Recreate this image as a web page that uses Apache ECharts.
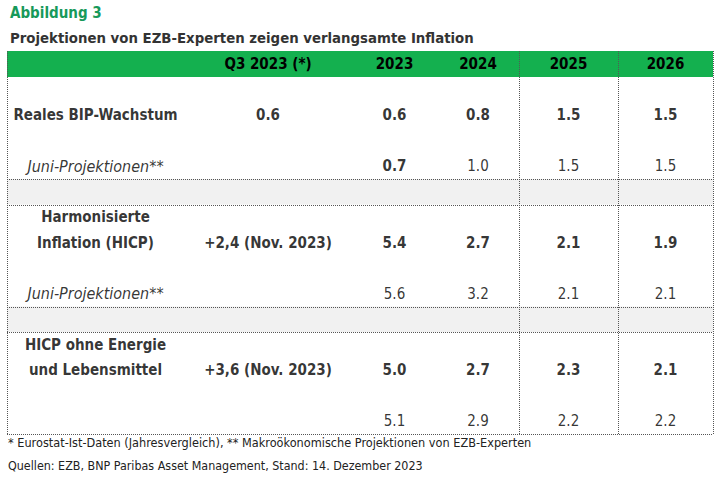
<script src="https://cdn.jsdelivr.net/npm/echarts@6/dist/echarts.min.js"></script>

<style>
  body { margin: 0; }
</style>

<div id="chart" style="width: 725px; height: 481px;"></div>

<script>
  // table content
  const columns = ['Q3 2023 (*)', '2023', '2024', '2025', '2026'];
  const rowLabels = ['Reales BIP-Wachstum', 'Juni-Projektionen**', 'Harmonisierte\nInflation (HICP)',
    'Juni-Projektionen**', 'HICP ohne Energie\nund Lebensmittel', ''];
  const bip = ['0.6', '0.6', '0.8', '1.5', '1.5'];
  const bipJune = ['', '0.7', '1.0', '1.5', '1.5'];
  const hicp = ['+2,4 (Nov. 2023)', '5.4', '2.7', '2.1', '1.9'];
  const hicpJune = ['', '5.6', '3.2', '2.1', '2.1'];
  const core = ['+3,6 (Nov. 2023)', '5.0', '2.7', '2.3', '2.1'];
  const coreJune = ['', '5.1', '2.9', '2.2', '2.2'];
  const rows = [bip, bipJune, hicp, hicpJune, core, coreJune];

  const ready = (fn) => {
    if (document.readyState !== "loading") {
      fn();
    } else {
      document.addEventListener("DOMContentLoaded", fn);
    }
  };

  ready(() => {
    const FONT = "'Liberation Sans Narrow', 'DejaVu Sans Condensed', sans-serif";
    const H = 481;
    const TOP = 77, BOTTOM = 434, LEFT = 7, RIGHT = 713;
    const SLOTS = 14;
    const slotH = (BOTTOM - TOP) / SLOTS;
    // column edges (label column first)
    const edges = [7, 184, 352, 437, 519, 618, 713];
    // slot of each row's values, and whether the row is a main (bold) row
    const rowSlot = [1, 3, 6, 8, 11, 13];
    const rowMain = [true, false, true, false, true, false];
    const bandSlots = [4, 9];
    const slotCats = Array.from({ length: SLOTS }, (_, i) => String(i));

    const grids = [], xAxes = [], yAxes = [], series = [];
    for (let c = 0; c < edges.length - 1; c++) {
      grids.push({ left: edges[c], width: edges[c + 1] - edges[c], top: TOP, bottom: H - BOTTOM });
      xAxes.push({
        gridIndex: c, type: 'category', position: 'top',
        data: [c === 0 ? '' : columns[c - 1]],
        axisLine: { show: false }, axisTick: { show: false }, splitLine: { show: false },
        axisLabel: {
          margin: 13, verticalAlign: 'middle', fontFamily: FONT,
          fontSize: 15, fontWeight: 'bold', color: '#000'
        }
      });
      yAxes.push({
        gridIndex: c, type: 'category', inverse: true, data: slotCats, show: false
      });

      const data = [];
      rows.forEach((row, r) => {
        let bold = rowMain[r];
        // June projection for 2023 GDP is printed in bold
        if (r === 1 && c === 2) bold = true;
        const italic = c === 0 && !rowMain[r];
        const style = {
          fontWeight: bold ? 'bold' : 'normal',
          fontStyle: italic ? 'italic' : 'normal',
          fontSize: italic ? 16 : 15
        };
        if (c === 0) {
          // multi-line labels end on the row's value line
          const lines = rowLabels[r].split('\n');
          lines.forEach((line, i) => {
            if (!line) return;
            data.push({ value: [0, rowSlot[r] - (lines.length - 1) + i], name: line, label: style });
          });
        } else if (row[c - 1]) {
          data.push({ value: [0, rowSlot[r]], name: row[c - 1], label: style });
        }
      });
      series.push({
        type: 'scatter', xAxisIndex: c, yAxisIndex: c,
        symbolSize: 1, itemStyle: { color: 'rgba(0,0,0,0)' },
        silent: true,
        label: {
          show: true, position: 'inside', formatter: (p) => p.name,
          fontFamily: FONT, fontSize: 15, color: '#000'
        },
        data
      });
    }

    const dotted = { stroke: '#555', lineWidth: 1, lineDash: [1, 1] };
    const graphic = [];
    graphic.push({ type: 'rect', shape: { x: LEFT, y: 51, width: RIGHT - LEFT, height: TOP - 51 },
      style: { fill: '#14b04f' }, z: -10 });
    bandSlots.forEach((s) => {
      const y0 = TOP + s * slotH, y1 = TOP + (s + 1) * slotH;
      graphic.push({ type: 'rect', shape: { x: LEFT, y: y0, width: RIGHT - LEFT, height: y1 - y0 },
        style: { fill: '#f1f1f1' }, z: -10 });
      [y0, y1].forEach((y) => graphic.push({ type: 'line',
        shape: { x1: LEFT, y1: Math.round(y) + 0.5, x2: RIGHT, y2: Math.round(y) + 0.5 }, style: dotted }));
    });
    graphic.push({ type: 'line', shape: { x1: LEFT, y1: BOTTOM + 0.5, x2: RIGHT, y2: BOTTOM + 0.5 }, style: dotted });
    [LEFT, edges[4], edges[5], RIGHT].forEach((x) => graphic.push({ type: 'line',
      shape: { x1: x + 0.5, y1: 51, x2: x + 0.5, y2: BOTTOM }, style: dotted }));
    graphic.push({ type: 'text', left: 8, top: 436, style: {
      text: '* Eurostat-Ist-Daten (Jahresvergleich), ** Makroökonomische Projektionen von EZB-Experten',
      font: '12.6px ' + FONT, fill: '#222' } });
    graphic.push({ type: 'text', left: 8, top: 459, style: {
      text: 'Quellen: EZB, BNP Paribas Asset Management, Stand: 14. Dezember 2023',
      font: '12.4px ' + FONT, fill: '#222' } });

    const chartDom = document.getElementById("chart");
    const myChart = echarts.init(chartDom, null, { renderer: "svg" });
    myChart.setOption({
      animation: false,
      backgroundColor: '#fff',
      title: [
        { text: 'Abbildung 3', left: 10, top: 5, padding: 0,
          textStyle: { fontFamily: FONT, fontSize: 15, fontWeight: 'bold', color: '#17995a' } },
        { text: 'Projektionen von EZB-Experten zeigen verlangsamte Inflation', left: 10, top: 30, padding: 0,
          textStyle: { fontFamily: FONT, fontSize: 14.8, fontWeight: 'bold', color: '#333' } }
      ],
      grid: grids,
      xAxis: xAxes,
      yAxis: yAxes,
      series,
      graphic
    });
  });
</script>
